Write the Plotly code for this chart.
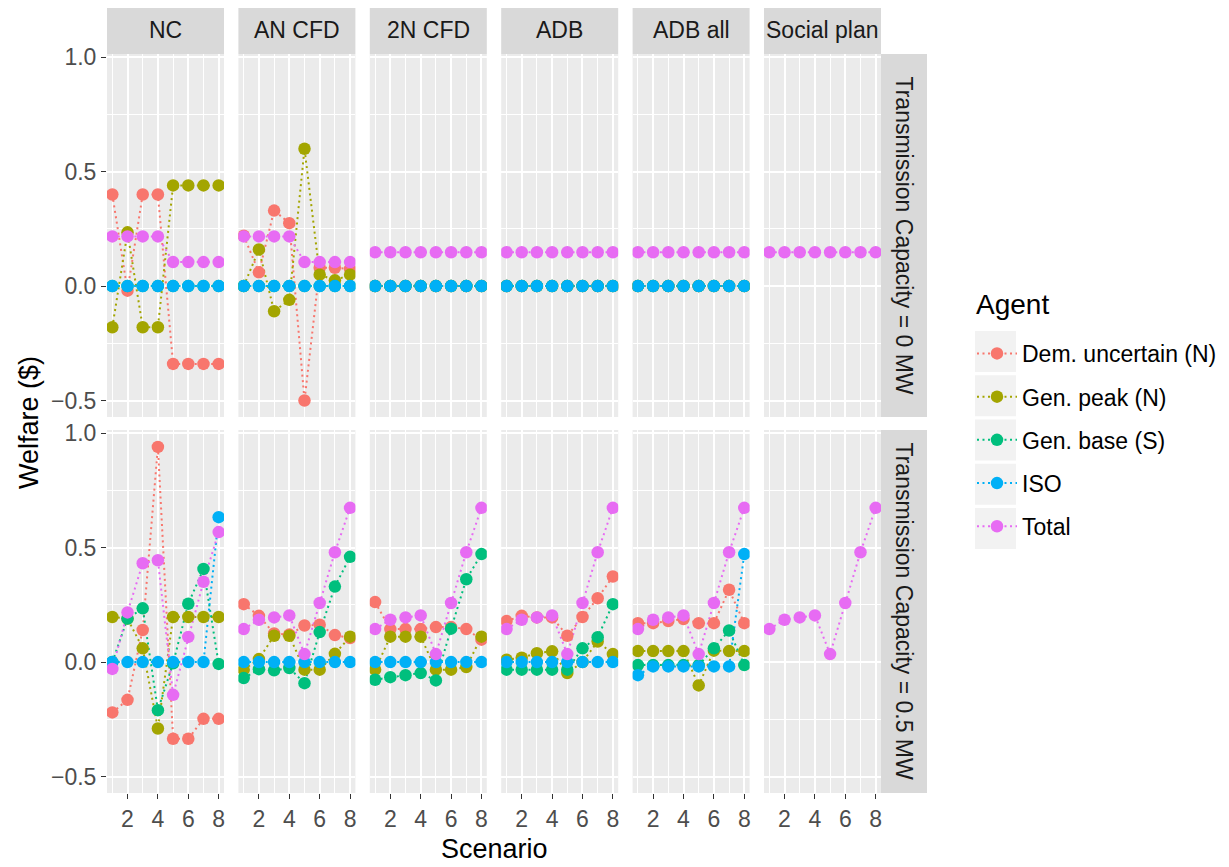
import plotly.graph_objects as go

PAGE_W, PAGE_H = 1229, 867
OFF = 8  # default page body margin in the browser
W, H = PAGE_W - OFF, PAGE_H - OFF

scenarios = [1, 2, 3, 4, 5, 6, 7, 8]
facet_cols = ["NC", "AN CFD", "2N CFD", "ADB", "ADB all", "Social plan"]
facet_rows = ["Transmission Capacity = 0 MW", "Transmission Capacity = 0.5 MW"]
agents = ["Dem. uncertain (N)", "Gen. peak (N)", "Gen. base (S)", "ISO", "Total"]
agent_colors = ["#F8766D", "#A3A500", "#00BF7D", "#00B0F6", "#E76BF3"]
y_ticks = [-0.5, 0.0, 0.5, 1.0]
x_ticks = [2, 4, 6, 8]

# ---- Transmission Capacity = 0 MW ----
nc_0_dem = [0.40, -0.02, 0.40, 0.40, -0.34, -0.34, -0.34, -0.34]
nc_0_peak = [-0.18, 0.235, -0.18, -0.18, 0.44, 0.44, 0.44, 0.44]
nc_0_base = [0.0, 0.0, 0.0, 0.0, 0.0, 0.0, 0.0, 0.0]
nc_0_iso = [0.0, 0.0, 0.0, 0.0, 0.0, 0.0, 0.0, 0.0]
nc_0_total = [0.217, 0.217, 0.217, 0.217, 0.105, 0.105, 0.105, 0.105]

an_0_dem = [0.22, 0.06, 0.33, 0.275, -0.50, 0.08, 0.08, 0.075]
an_0_peak = [0.0, 0.16, -0.11, -0.06, 0.60, 0.05, 0.025, 0.05]
an_0_base = [0.0, 0.0, 0.0, 0.0, 0.0, 0.0, 0.0, 0.0]
an_0_iso = [0.0, 0.0, 0.0, 0.0, 0.0, 0.0, 0.0, 0.0]
an_0_total = [0.217, 0.217, 0.217, 0.217, 0.105, 0.105, 0.105, 0.105]

n2_0_dem = [0.0, 0.0, 0.0, 0.0, 0.0, 0.0, 0.0, 0.0]
n2_0_peak = [0.0, 0.0, 0.0, 0.0, 0.0, 0.0, 0.0, 0.0]
n2_0_base = [0.0, 0.0, 0.0, 0.0, 0.0, 0.0, 0.0, 0.0]
n2_0_iso = [0.0, 0.0, 0.0, 0.0, 0.0, 0.0, 0.0, 0.0]
n2_0_total = [0.148, 0.148, 0.148, 0.148, 0.148, 0.148, 0.148, 0.148]

adb_0_dem = [0.0, 0.0, 0.0, 0.0, 0.0, 0.0, 0.0, 0.0]
adb_0_peak = [0.0, 0.0, 0.0, 0.0, 0.0, 0.0, 0.0, 0.0]
adb_0_base = [0.0, 0.0, 0.0, 0.0, 0.0, 0.0, 0.0, 0.0]
adb_0_iso = [0.0, 0.0, 0.0, 0.0, 0.0, 0.0, 0.0, 0.0]
adb_0_total = [0.148, 0.148, 0.148, 0.148, 0.148, 0.148, 0.148, 0.148]

adball_0_dem = [0.0, 0.0, 0.0, 0.0, 0.0, 0.0, 0.0, 0.0]
adball_0_peak = [0.0, 0.0, 0.0, 0.0, 0.0, 0.0, 0.0, 0.0]
adball_0_base = [0.0, 0.0, 0.0, 0.0, 0.0, 0.0, 0.0, 0.0]
adball_0_iso = [0.0, 0.0, 0.0, 0.0, 0.0, 0.0, 0.0, 0.0]
adball_0_total = [0.148, 0.148, 0.148, 0.148, 0.148, 0.148, 0.148, 0.148]

sp_0_total = [0.148, 0.148, 0.148, 0.148, 0.148, 0.148, 0.148, 0.148]

# ---- Transmission Capacity = 0.5 MW ----
nc_5_dem = [-0.22, -0.165, 0.14, 0.94, -0.335, -0.335, -0.248, -0.248]
nc_5_peak = [0.197, 0.19, 0.06, -0.29, 0.197, 0.197, 0.197, 0.197]
nc_5_base = [0.0, 0.19, 0.235, -0.21, -0.005, 0.255, 0.407, -0.008]
nc_5_iso = [0.0, 0.0, 0.0, 0.0, 0.0, 0.0, 0.0, 0.633]
nc_5_total = [-0.03, 0.217, 0.432, 0.445, -0.143, 0.11, 0.351, 0.568]

an_5_dem = [0.253, 0.202, 0.125, 0.12, 0.16, 0.163, 0.118, 0.105]
an_5_peak = [-0.033, 0.013, 0.115, 0.115, -0.033, -0.033, 0.036, 0.111]
an_5_base = [-0.07, -0.031, -0.036, -0.026, -0.092, 0.131, 0.33, 0.46]
an_5_iso = [0.0, 0.0, 0.0, 0.0, 0.0, 0.0, 0.0, 0.0]
an_5_total = [0.144, 0.185, 0.195, 0.204, 0.035, 0.258, 0.48, 0.674]

n2_5_dem = [0.262, 0.144, 0.144, 0.144, 0.153, 0.153, 0.144, 0.098]
n2_5_peak = [-0.033, 0.111, 0.111, 0.111, -0.033, -0.033, -0.022, 0.111]
n2_5_base = [-0.077, -0.066, -0.057, -0.048, -0.08, 0.146, 0.362, 0.472]
n2_5_iso = [0.0, 0.0, 0.0, 0.0, 0.0, 0.0, 0.0, 0.0]
n2_5_total = [0.144, 0.185, 0.195, 0.204, 0.035, 0.258, 0.48, 0.674]

adb_5_dem = [0.179, 0.202, 0.195, 0.195, 0.115, 0.197, 0.279, 0.374]
adb_5_peak = [0.01, 0.019, 0.039, 0.047, -0.048, 0.0, 0.09, 0.035]
adb_5_base = [-0.033, -0.033, -0.033, -0.033, -0.033, 0.06, 0.109, 0.253]
adb_5_iso = [0.0, 0.0, 0.0, 0.0, 0.0, 0.0, 0.0, 0.0]
adb_5_total = [0.144, 0.185, 0.195, 0.204, 0.035, 0.258, 0.48, 0.674]

adball_5_dem = [0.17, 0.17, 0.179, 0.188, 0.17, 0.17, 0.316, 0.17]
adball_5_peak = [0.048, 0.048, 0.048, 0.048, -0.102, 0.05, 0.048, 0.048]
adball_5_base = [-0.013, -0.013, -0.013, -0.013, -0.013, 0.06, 0.138, -0.013]
adball_5_iso = [-0.057, -0.019, -0.019, -0.019, -0.019, -0.019, -0.019, 0.472]
adball_5_total = [0.144, 0.185, 0.195, 0.204, 0.035, 0.258, 0.48, 0.674]

sp_5_total = [0.144, 0.185, 0.195, 0.204, 0.035, 0.258, 0.48, 0.674]

panels = {
    (0, 0): [nc_0_dem, nc_0_peak, nc_0_base, nc_0_iso, nc_0_total],
    (0, 1): [an_0_dem, an_0_peak, an_0_base, an_0_iso, an_0_total],
    (0, 2): [n2_0_dem, n2_0_peak, n2_0_base, n2_0_iso, n2_0_total],
    (0, 3): [adb_0_dem, adb_0_peak, adb_0_base, adb_0_iso, adb_0_total],
    (0, 4): [adball_0_dem, adball_0_peak, adball_0_base, adball_0_iso, adball_0_total],
    (0, 5): [None, None, None, None, sp_0_total],
    (1, 0): [nc_5_dem, nc_5_peak, nc_5_base, nc_5_iso, nc_5_total],
    (1, 1): [an_5_dem, an_5_peak, an_5_base, an_5_iso, an_5_total],
    (1, 2): [n2_5_dem, n2_5_peak, n2_5_base, n2_5_iso, n2_5_total],
    (1, 3): [adb_5_dem, adb_5_peak, adb_5_base, adb_5_iso, adb_5_total],
    (1, 4): [adball_5_dem, adball_5_peak, adball_5_base, adball_5_iso, adball_5_total],
    (1, 5): [None, None, None, None, sp_5_total],
}

# ---- layout geometry (page pixels) ----
col_left = [107 + 131.4 * i for i in range(6)]
col_w = 117
row_top = [54, 430]
row_h = 363
strip_top = 6
strip_r_l, strip_r_r = col_left[5] + col_w, 927


def px(x):
    return (x - OFF) / W


def py(y):
    return 1 - (y - OFF) / H


FONT = "Liberation Sans, Arial, sans-serif"
TICK_SIZE = 23
STRIP_SIZE = 23
TITLE_SIZE = 27
fig = go.Figure()

layout = {}
for r in range(2):
    for c in range(6):
        k = r * 6 + c + 1
        sfx = "" if k == 1 else str(k)
        layout["xaxis" + sfx] = dict(
            domain=[px(col_left[c]), px(col_left[c] + col_w)],
            anchor="y" + sfx,
            range=[0.65, 8.35],
            tickmode="array", tickvals=x_ticks,
            showticklabels=(r == 1),
            ticks="outside" if r == 1 else "", ticklen=5, tickwidth=1.4, tickcolor="#333333",
            tickfont=dict(family=FONT, size=TICK_SIZE, color="#4D4D4D"),
            showgrid=True, gridcolor="white", gridwidth=1.6,
            minor=dict(tickvals=[1, 3, 5, 7], showgrid=True, gridcolor="white", gridwidth=0.8),
            zeroline=False, showline=False, fixedrange=True, automargin=False,
        )
        layout["yaxis" + sfx] = dict(
            domain=[py(row_top[r] + row_h), py(row_top[r])],
            anchor="x" + sfx,
            range=[-0.572, 1.014],
            tickmode="array", tickvals=y_ticks, tickformat=".1f",
            showticklabels=(c == 0),
            ticks="outside" if c == 0 else "", ticklen=5, tickwidth=1.4, tickcolor="#333333",
            tickfont=dict(family=FONT, size=TICK_SIZE, color="#4D4D4D"),
            showgrid=True, gridcolor="white", gridwidth=1.6,
            minor=dict(tickvals=[-0.25, 0.25, 0.75], showgrid=True, gridcolor="white", gridwidth=0.8),
            zeroline=False, showline=False, fixedrange=True, automargin=False,
        )

LINE_DASH = "2px,3.5px"
for (r, c), series in panels.items():
    k = r * 6 + c + 1
    xa = "x" if k == 1 else "x%d" % k
    ya = "y" if k == 1 else "y%d" % k
    # lines first (as ggplot draws geom_line before geom_point)
    for a, vals in enumerate(series):
        if vals is None:
            continue
        fig.add_trace(go.Scatter(
            x=scenarios, y=vals, mode="lines", xaxis=xa, yaxis=ya,
            line=dict(color=agent_colors[a], width=2, dash=LINE_DASH),
            showlegend=False, hoverinfo="skip"))
    for a, vals in enumerate(series):
        if vals is None:
            continue
        fig.add_trace(go.Scatter(
            x=scenarios, y=vals, mode="markers", xaxis=xa, yaxis=ya,
            marker=dict(color=agent_colors[a], size=12.5, line=dict(width=0)),
            showlegend=False, name=agents[a]))

# legend entries
for a, name in enumerate(agents):
    fig.add_trace(go.Scatter(
        x=[None], y=[None], mode="lines+markers", name=name, legendgroup=name,
        line=dict(color=agent_colors[a], width=2, dash=LINE_DASH),
        marker=dict(color=agent_colors[a], size=12.5),
        xaxis="x", yaxis="y"))

shapes = []
annotations = []
# panel backgrounds
for r in range(2):
    for c in range(6):
        shapes.append(dict(type="rect", xref="paper", yref="paper", layer="below",
                           x0=px(col_left[c]), x1=px(col_left[c] + col_w),
                           y0=py(row_top[r] + row_h), y1=py(row_top[r]),
                           fillcolor="#EBEBEB", line=dict(width=0)))
# top strips
for c, name in enumerate(facet_cols):
    shapes.append(dict(type="rect", xref="paper", yref="paper", layer="below",
                       x0=px(col_left[c]), x1=px(col_left[c] + col_w),
                       y0=py(row_top[0]), y1=py(strip_top),
                       fillcolor="#D9D9D9", line=dict(width=0)))
    annotations.append(dict(text=name, xref="paper", yref="paper", showarrow=False,
                            x=px(col_left[c] + col_w / 2), y=py((strip_top + row_top[0]) / 2),
                            xanchor="center", yanchor="middle",
                            font=dict(family=FONT, size=STRIP_SIZE, color="#1A1A1A")))
# right strips
for r, name in enumerate(facet_rows):
    shapes.append(dict(type="rect", xref="paper", yref="paper", layer="below",
                       x0=px(strip_r_l), x1=px(strip_r_r),
                       y0=py(row_top[r] + row_h), y1=py(row_top[r]),
                       fillcolor="#D9D9D9", line=dict(width=0)))
    annotations.append(dict(text=name, xref="paper", yref="paper", showarrow=False,
                            x=px((strip_r_l + strip_r_r) / 2), y=py(row_top[r] + row_h / 2),
                            xanchor="center", yanchor="middle", textangle=90,
                            font=dict(family=FONT, size=STRIP_SIZE, color="#1A1A1A")))
# legend key backgrounds
for i in range(5):
    cy = 351.5 + 44.25 * i
    shapes.append(dict(type="rect", xref="paper", yref="paper", layer="below",
                       x0=px(975), x1=px(1016), y0=py(cy + 20.5), y1=py(cy - 20.5),
                       fillcolor="#F2F2F2", line=dict(width=0)))

# axis titles and legend title
annotations.append(dict(text="Scenario", xref="paper", yref="paper", showarrow=False,
                        x=px((col_left[0] + col_left[5] + col_w) / 2), y=py(849),
                        xanchor="center", yanchor="middle",
                        font=dict(family=FONT, size=TITLE_SIZE, color="black")))
annotations.append(dict(text="Welfare ($)", xref="paper", yref="paper", showarrow=False,
                        x=px(29), y=py(423), xanchor="center", yanchor="middle", textangle=-90,
                        font=dict(family=FONT, size=TITLE_SIZE, color="black")))
annotations.append(dict(text="Agent", xref="paper", yref="paper", showarrow=False,
                        x=px(974), y=py(304), xanchor="left", yanchor="middle",
                        font=dict(family=FONT, size=28, color="black")))

layout.update(dict(
    width=W, height=H,
    margin=dict(l=0, r=0, t=0, b=0),
    paper_bgcolor="white", plot_bgcolor="rgba(0,0,0,0)",
    shapes=shapes, annotations=annotations,
    showlegend=True,
    legend=dict(
        x=px(972), xanchor="left", y=py(332), yanchor="top",
        font=dict(family=FONT, size=23, color="black"),
        bgcolor="rgba(0,0,0,0)", borderwidth=0,
        traceorder="grouped", tracegroupgap=10.3, itemwidth=40,
    ),
))
fig.update_layout(**layout)
fig.write_html("out.html")
